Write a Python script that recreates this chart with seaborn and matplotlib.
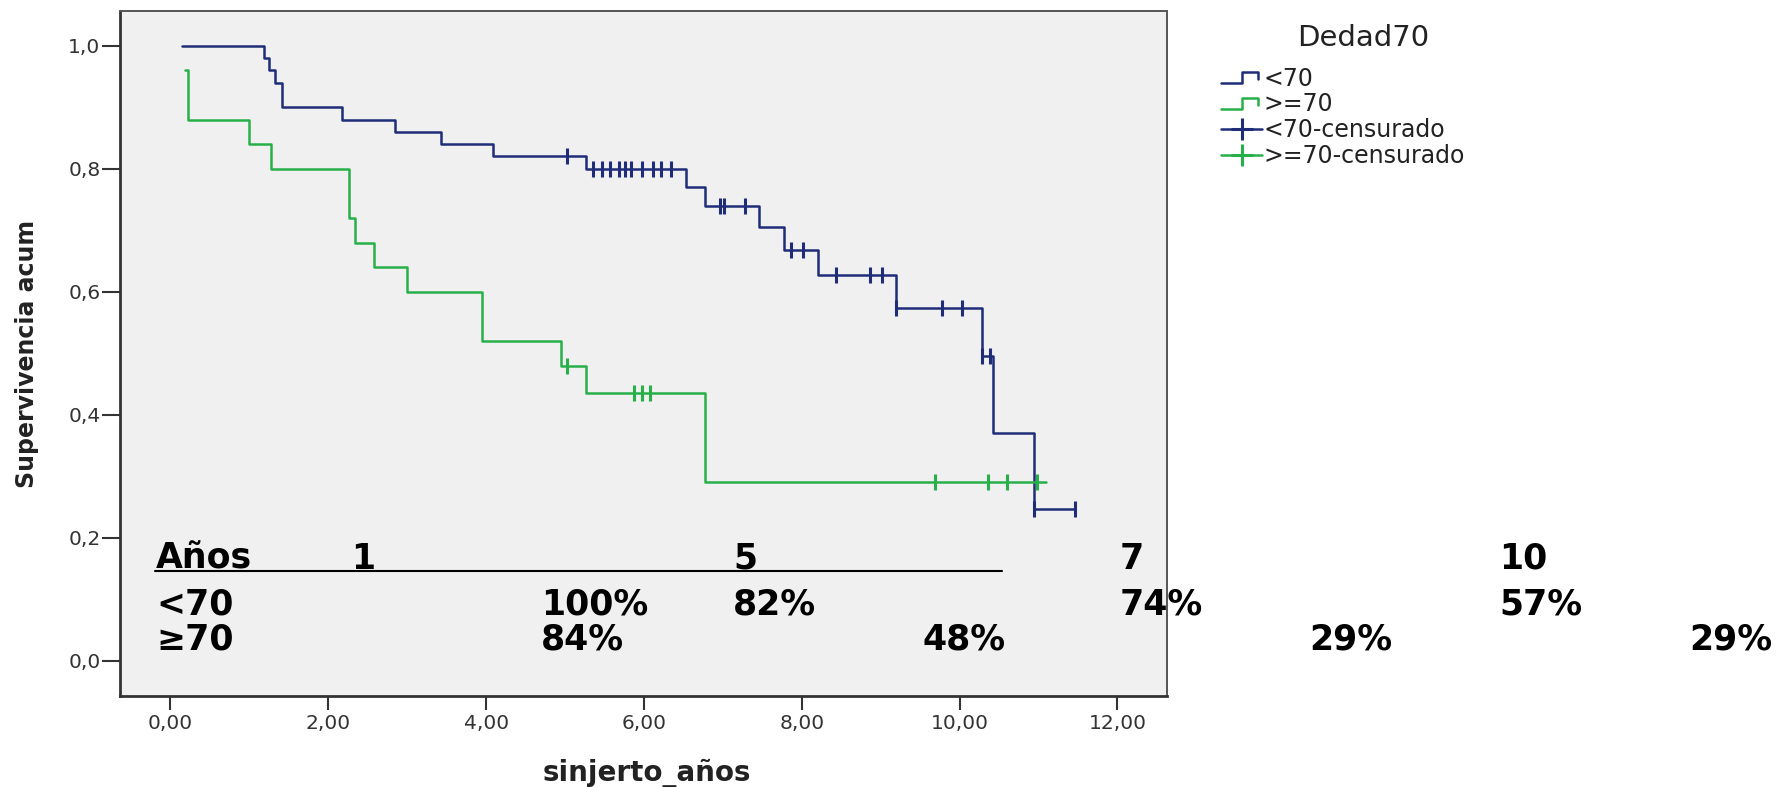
import numpy as np
import pandas as pd
import matplotlib
matplotlib.use("Agg")
import matplotlib.pyplot as plt
from matplotlib.lines import Line2D
from matplotlib.legend_handler import HandlerBase
import seaborn as sns

# Kaplan-Meier steps
blue_times = [0.15, 1.18, 1.25, 1.33, 1.42, 2.18, 2.84, 3.43, 4.09, 5.27, 6.53, 6.77,
              7.46, 7.78, 8.20, 9.20, 10.28, 10.43, 10.94]
blue_surv = [1.00, 0.98, 0.96, 0.94, 0.90, 0.88, 0.86, 0.84, 0.82, 0.80, 0.771, 0.739,
             0.706, 0.668, 0.628, 0.574, 0.495, 0.371, 0.247]
blue_end = 11.46
blue_cens = [5.02, 5.35, 5.47, 5.57, 5.68, 5.76, 5.84, 5.98, 6.12, 6.22, 6.34, 6.96, 7.01,
             7.28, 7.87, 8.01, 8.44, 8.86, 9.02, 9.20, 9.78, 10.03, 10.28, 10.38, 10.94, 11.46]

green_times = [0.18, 0.22, 1.00, 1.27, 2.26, 2.34, 2.58, 3.00, 3.95, 4.95, 5.27, 6.77]
green_surv = [0.96, 0.88, 0.84, 0.80, 0.72, 0.68, 0.64, 0.60, 0.52, 0.48, 0.435, 0.29]
green_end = 11.10
green_cens = [5.02, 5.88, 5.98, 6.08, 9.69, 10.36, 10.60, 10.98]

groups = ["<70", ">=70"]
colors = {"<70": "#1f2d78", ">=70": "#27b04a"}

table_header = ["Años", "1", "5", "7", "10"]
table_lt70 = ["<70", "100%", "82%", "74%", "57%"]
table_ge70 = ["\u226570", "84%", "48%", "29%", "29%"]


def step_frame(times, surv, end, name):
    return pd.DataFrame({"t": list(times) + [end], "s": list(surv) + [surv[-1]], "g": name})


def cens_frame(times, surv, cens, name):
    idx = np.searchsorted(times, cens, side="right") - 1
    return pd.DataFrame({"t": cens, "s": np.array(surv)[idx], "g": name})


steps = pd.concat([step_frame(blue_times, blue_surv, blue_end, "<70"),
                   step_frame(green_times, green_surv, green_end, ">=70")])
cens = pd.concat([cens_frame(blue_times, blue_surv, blue_cens, "<70"),
                  cens_frame(green_times, green_surv, green_cens, ">=70")])

sns.set_theme(style="white")
plt.rcParams["font.family"] = ["DejaVu Sans"]

fig = plt.figure(figsize=(17.9, 7.87), dpi=100)
ax = fig.add_axes([0.0670, 0.1157, 0.5850, 0.8700])
ax.set_facecolor("#f0f0f0")

for g in groups:
    sns.lineplot(data=steps[steps.g == g], x="t", y="s", color=colors[g], estimator=None,
                 drawstyle="steps-post", linewidth=1.8, ax=ax, legend=False)
    sns.scatterplot(data=cens[cens.g == g], x="t", y="s", color=colors[g], marker="|",
                    s=140, linewidth=2.2, ax=ax, legend=False, zorder=3)

ax.set_xlim(-0.64, 12.63)
ax.set_ylim(-0.057, 1.056)
ax.set_xticks(np.arange(0, 13, 2))
ax.set_xticklabels([f"{v:.2f}".replace(".", ",") for v in np.arange(0, 13, 2)])
ax.set_yticks(np.arange(0, 1.01, 0.2))
ax.set_yticklabels([f"{v:.1f}".replace(".", ",") for v in np.arange(0, 1.01, 0.2)])
ax.tick_params(axis="both", direction="out", width=1.5, color="#333333",
               labelsize=14.5, labelcolor="#333333", bottom=True, left=True)
ax.tick_params(axis="y", length=13, pad=1)
ax.tick_params(axis="x", length=10, pad=3)
for side, sp in ax.spines.items():
    sp.set_color("#333333" if side in ("left", "bottom") else "#555555")
    sp.set_linewidth(2.0 if side in ("left", "bottom") else 1.4)

ax.set_xlabel("sinjerto_años", fontsize=20, fontweight="bold", color="#222222")
ax.set_ylabel("Supervivencia acum", fontsize=17, fontweight="bold", color="#222222")
ax.xaxis.set_label_coords(0.503, -0.092)
ax.yaxis.set_label_coords(-0.077, 0.5)

# survival table drawn over the plot
col_x = [
    [-0.18, 2.29, 7.13, 12.03, 16.84],
    [-0.18, 4.70, 7.13, 12.03, 16.84],
    [-0.18, 4.70, 9.53, 14.43, 19.25],
]
row_y = [0.150, 0.075, 0.018]
for labels, xs, y in zip([table_header, table_lt70, table_ge70], col_x, row_y):
    for lab, x in zip(labels, xs):
        ax.text(x, y, lab, fontsize=25, fontweight="bold", color="black",
                va="baseline", ha="left", clip_on=False, zorder=5)
ax.plot([-0.19, 10.54], [0.146, 0.146], color="black", linewidth=1.5, zorder=5)


class StepHandler(HandlerBase):
    def create_artists(self, legend, orig_handle, xdescent, ydescent, width, height,
                       fontsize, trans):
        x0 = -xdescent
        y0 = -ydescent
        xs = [x0, x0 + 0.5 * width, x0 + 0.5 * width, x0 + 0.92 * width, x0 + 0.92 * width]
        ys = [y0 + 0.15 * height, y0 + 0.15 * height, y0 + 0.8 * height,
              y0 + 0.8 * height, y0 + 0.4 * height]
        ln = Line2D(xs, ys, color=orig_handle.get_color(), linewidth=1.8, transform=trans)
        return [ln]


h_lt = Line2D([], [], color=colors["<70"])
h_ge = Line2D([], [], color=colors[">=70"])
h_lt_c = Line2D([], [], color=colors["<70"], marker="+", markersize=16, markeredgewidth=2.2, linewidth=1.8)
h_ge_c = Line2D([], [], color=colors[">=70"], marker="+", markersize=16, markeredgewidth=2.2, linewidth=1.8)

leg = fig.legend([h_lt, h_ge, h_lt_c, h_ge_c],
                 ["<70", ">=70", "<70-censurado", ">=70-censurado"],
                 loc="upper left", bbox_to_anchor=(0.6824, 0.9155),
                 borderaxespad=0, borderpad=0,
                 frameon=False, fontsize=17, handlelength=1.7,
                 handletextpad=0.1, labelspacing=0.08,
                 handler_map={h_lt: StepHandler(), h_ge: StepHandler()})
for t in leg.get_texts():
    t.set_color("#222222")
fig.text(0.7615, 0.952, "Dedad70", fontsize=21, color="#222222", ha="center", va="center")

fig.savefig("out.png", dpi=100, facecolor="white")
